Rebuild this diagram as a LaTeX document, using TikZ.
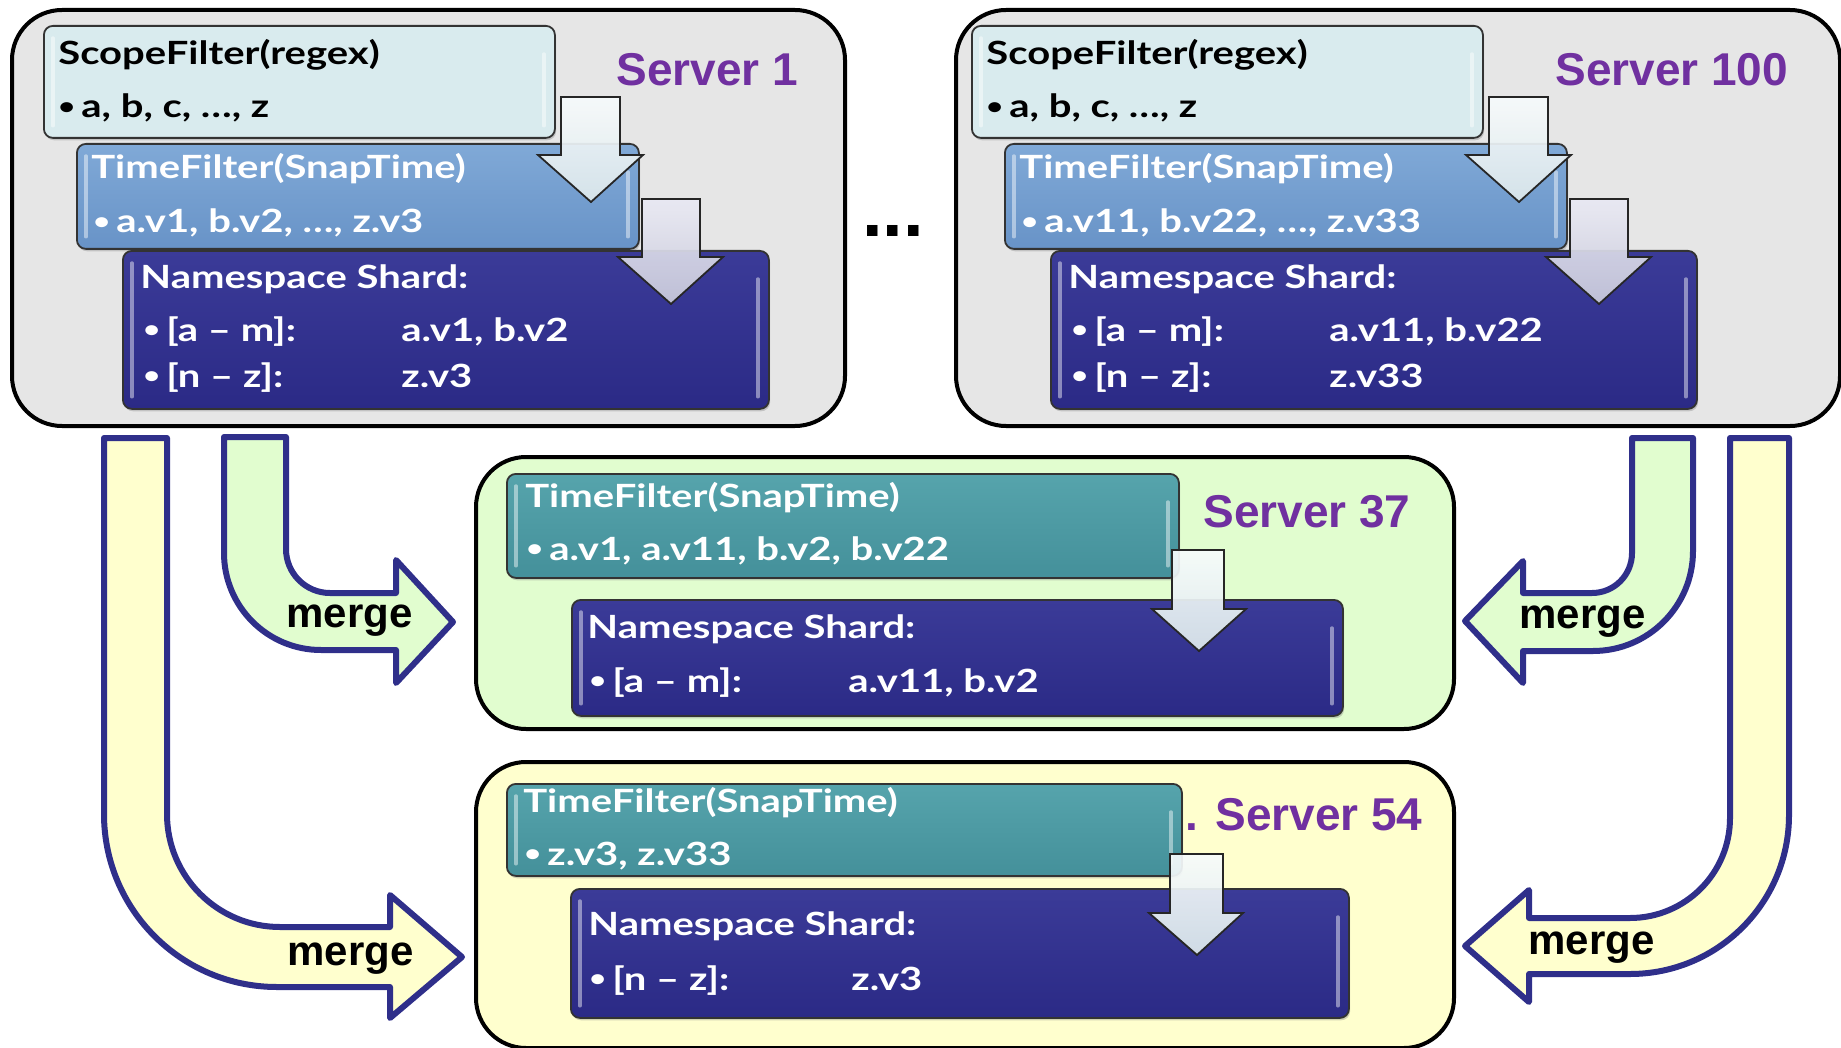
\documentclass[tikz,border=0pt]{standalone}
\usepackage{graphicx}
\usepackage{fontspec}
\setmainfont{Liberation Sans}
\newfontfamily\gill[FakeStretch=1.25]{Lato}
\usetikzlibrary{shadows}

\definecolor{srvgray}{HTML}{E6E6E6}
\definecolor{srvgreen}{HTML}{E1FDCF}
\definecolor{srvyellow}{HTML}{FFFFCE}
\definecolor{srvpurple}{HTML}{7030A0}
\definecolor{mergeblue}{HTML}{2F2F8A}
\definecolor{scopefill}{HTML}{D9EBEE}
\definecolor{timetop}{HTML}{80A9D7}
\definecolor{timebot}{HTML}{6893C7}
\definecolor{nstop}{HTML}{3B3B98}
\definecolor{nsbot}{HTML}{2B2A86}
\definecolor{tealtop}{HTML}{56A4AC}
\definecolor{tealbot}{HTML}{44909A}
\definecolor{flowtop}{HTML}{F7FBFC}
\definecolor{flowbot}{HTML}{DCE8EC}
\definecolor{flowbtop}{HTML}{E9E9F3}
\definecolor{flowbbot}{HTML}{C9CADC}

% one panel box given by its corners in px (y grows downwards)
\newcommand\panel[6]{%
  \node[#2, anchor=north west, minimum width={(#5-#3)*0.5pt},
        minimum height={(#6-#4)*0.5pt}] (#1) at (#3,#4) {};}
% a downward block arrow: shaft x1,x2, top y; head x1,x2 at y; tip x,y
\newcommand\blockarrow[9]{%
  \draw[#9] (#1,#3) -- (#2,#3) -- (#2,#6) -- (#5,#6) -- (#7,#8)
            -- (#4,#6) -- (#1,#6) -- cycle;}
\newcommand\bul{\makebox[11.5pt][l]{\raisebox{0.1em}{\scalebox{0.72}{•}}}}

\tikzset{
  serverbox/.style={draw=black, line width=2pt, rounded corners=25pt},
  glossy/.style={path picture={
      \draw[white, opacity=0.45, line width=1.6pt, line cap=round]
        ([xshift=4.5pt,yshift=-6pt]path picture bounding box.north west)
        -- ([xshift=4.5pt,yshift=6pt]path picture bounding box.south west);
      \draw[white, opacity=0.45, line width=1.6pt, line cap=round]
        ([xshift=-5.5pt,yshift=-14pt]path picture bounding box.north east)
        -- ([xshift=-5.5pt,yshift=6pt]path picture bounding box.south east);}},
  panelbase/.style={draw=black!80, line width=0.9pt, rounded corners=4.5pt,
      inner sep=0pt, glossy,
      drop shadow={shadow xshift=0.6pt, shadow yshift=-1.2pt, opacity=0.35}},
  scopebox/.style={panelbase, fill=scopefill},
  timebox/.style={panelbase, top color=timetop, bottom color=timebot},
  nsbox/.style={panelbase, top color=nstop, bottom color=nsbot},
  tealbox/.style={panelbase, top color=tealtop, bottom color=tealbot},
  btext/.style={font=\gill\bfseries\fontsize{16pt}{18pt}\selectfont,
      inner sep=0pt, text=black},
  wtext/.style={btext, text=white},
  srvlabel/.style={font=\bfseries\fontsize{23pt}{26pt}\selectfont,
      inner sep=0pt, text=srvpurple},
  mergetext/.style={font=\bfseries\fontsize{21pt}{24pt}\selectfont,
      inner sep=0pt, text=black},
  flowarrow/.style={draw=black!85, line width=0.9pt, top color=flowtop,
      bottom color=flowbot, fill opacity=0.93},
  flowarrowb/.style={draw=black!85, line width=0.9pt, top color=flowbtop,
      bottom color=flowbbot, fill opacity=0.93},
  mergearrow/.style={draw=mergeblue, line width=3pt, line join=round},
}

% the filter stack of one of the top servers
\newcommand\topstack[5]{%
\begin{scope}[xshift=#2]
  \panel{#1scope}{scopebox}{43}{25}{554}{137}
  \panel{#1time}{timebox}{76}{143}{638}{248}
  \panel{#1ns}{nsbox}{122}{250}{768}{408}
  \node[btext, anchor=base west] (#1scopet) at (58,65) {ScopeFilter(regex)};
  \node[btext, anchor=base west] (#1scopel) at (58,118) {\bul a, b, c, …, z};
  \node[wtext, anchor=base west] (#1timet) at (91,179) {TimeFilter(SnapTime)};
  \node[wtext, anchor=base west] (#1timel) at (93,233) {\bul #3};
  \node[wtext, anchor=base west] (#1nst) at (140,288) {Namespace Shard:};
  \node[wtext, anchor=base west] (#1nsa) at (143,341) {\bul [a – m]:};
  \node[wtext, anchor=base west] (#1nsav) at (401,341) {#4};
  \node[wtext, anchor=base west] (#1nsn) at (143,387) {\bul [n – z]:};
  \node[wtext, anchor=base west] (#1nsnv) at (401,387) {#5};
  \blockarrow{561}{620}{97}{538}{643}{155}{591}{202}{flowarrow}
  \blockarrow{642}{700}{199}{618}{723}{257}{671}{304}{flowarrowb}
\end{scope}}

\begin{document}
\begin{tikzpicture}[x=0.5pt, y=-0.5pt]
\useasboundingbox (0,0) rectangle (1841,1048);

% ---- top row: two full servers ----
\panel{srvA}{serverbox, fill=srvgray}{10}{8}{843}{424}
\panel{srvB}{serverbox, fill=srvgray}{954}{8}{1838}{424}
\node[srvlabel, anchor=base west] (srvAlabel) at (616,86) {Server 1};
\node[srvlabel, anchor=base west] (srvBlabel) at (1555,86) {Server 100};
\node[font=\bfseries\fontsize{37pt}{40pt}\selectfont, inner sep=0pt,
      anchor=base west] (dots) at (862,237) {...};

\topstack{a}{0pt}{a.v1, b.v2, …, z.v3}{a.v1, b.v2}{z.v3}
\topstack{b}{464pt}{a.v11, b.v22, …, z.v33}{a.v11, b.v22}{z.v33}

% ---- merge arrows ----
\draw[mergearrow, fill=srvgreen] (224,437) -- (224,553)
  arc[start angle=180, end angle=90, radius=97] -- (396,650) -- (396,683)
  -- (453,622) -- (396,560) -- (396,593) -- (330,593)
  arc[start angle=90, end angle=180, radius=44] -- (286,437) -- cycle;
\draw[mergearrow, fill=srvgreen] (1693,438) -- (1693,551)
  arc[start angle=0, end angle=90, radius=100] -- (1523,651) -- (1523,683)
  -- (1465,621) -- (1523,561) -- (1523,593) -- (1592,593)
  arc[start angle=90, end angle=0, radius=40] -- (1632,438) -- cycle;
\draw[mergearrow, fill=srvyellow] (104,438) -- (104,814)
  arc[start angle=180, end angle=90, radius=173] -- (390,987) -- (390,1018)
  -- (462,957) -- (390,895) -- (390,927) -- (280,927)
  arc[start angle=90, end angle=180, radius=113] -- (167,438) -- cycle;
\draw[mergearrow, fill=srvyellow] (1789,438) -- (1789,815)
  arc[start angle=0, end angle=90, radius=159] -- (1529,974) -- (1529,1002)
  -- (1465,946) -- (1529,890) -- (1529,918) -- (1630,918)
  arc[start angle=90, end angle=0, radius=100] -- (1730,818) -- (1730,438) -- cycle;
\node[mergetext, anchor=base west] (mergeA) at (286,627) {merge};
\node[mergetext, anchor=base west] (mergeB) at (1519,628) {merge};
\node[mergetext, anchor=base west] (mergeC) at (287,965) {merge};
\node[mergetext, anchor=base west] (mergeD) at (1528,954) {merge};

% ---- Server 37 ----
\panel{srvC}{serverbox, fill=srvgreen}{474}{455}{1452}{727}
\node[srvlabel, anchor=base west] (srvClabel) at (1203,527) {Server 37};
\panel{ctime}{tealbox}{506}{473}{1178}{577}
\panel{cns}{nsbox}{571}{599}{1342}{715}
\node[wtext, anchor=base west] (ctimet) at (525,507) {TimeFilter(SnapTime)};
\node[wtext, anchor=base west] (ctimel) at (526,560) {\bul a.v1, a.v11, b.v2, b.v22};
\node[wtext, anchor=base west] (cnst) at (587,638) {Namespace Shard:};
\node[wtext, anchor=base west] (cnsa) at (589,692) {\bul [a – m]:};
\node[wtext, anchor=base west] (cnsav) at (848,692) {a.v11, b.v2};
\blockarrow{1172}{1224}{550}{1152}{1246}{609}{1199}{651}{flowarrow}

% ---- Server 54 ----
\panel{srvD}{serverbox, fill=srvyellow}{474}{760}{1452}{1046}
\node[srvlabel, anchor=base east] (srvDlabel) at (1423,830) {. Server 54};
\panel{dtime}{tealbox}{506}{783}{1181}{875}
\panel{dns}{nsbox}{570}{888}{1348}{1017}
\node[wtext, anchor=base west] (dtimet) at (523,812) {TimeFilter(SnapTime)};
\node[wtext, anchor=base west] (dtimel) at (524,865) {\bul z.v3, z.v33};
\node[wtext, anchor=base west] (dnst) at (588,935) {Namespace Shard:};
\node[wtext, anchor=base west] (dnsn) at (589,990) {\bul [n – z]:};
\node[wtext, anchor=base west] (dnsnv) at (851,990) {z.v3};
\blockarrow{1170}{1223}{854}{1149}{1243}{913}{1197}{955}{flowarrow}
\end{tikzpicture}
\end{document}
